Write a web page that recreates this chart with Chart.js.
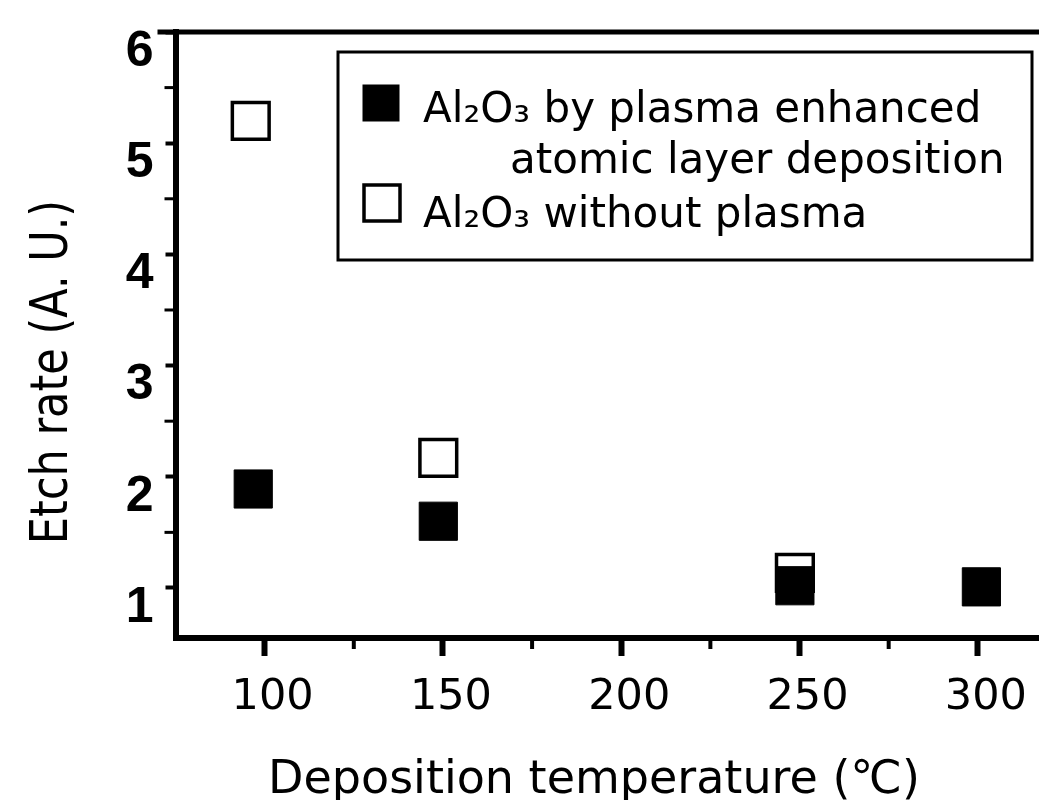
<!DOCTYPE html>
<html>
<head>
<meta charset="utf-8">
<script src="https://cdn.jsdelivr.net/npm/chart.js@4.4.1/dist/chart.umd.min.js"></script>
<style>
  html, body { margin: 0; padding: 0; background: #fff; overflow: hidden; }
  #wrap { width: 1039px; height: 800px; position: relative; overflow: hidden; }
  #c { display: block; }
</style>
</head>
<body>
<div id="wrap"><canvas id="c" width="1120" height="800"></canvas></div>
<script>
// ---- data ----
const temperaturesPlasma = [96.8, 148.7, 248.7, 301];
const etchPlasma = [1.89, 1.60, 1.02, 1.01];
const temperaturesThermal = [96.1, 148.7, 248.7];
const etchThermal = [5.20, 2.17, 1.135];
const seriesNames = [
  ['Al₂O₃ by plasma enhanced', 'atomic layer deposition'],
  ['Al₂O₃ without plasma']
];
const xTickValues = [100, 150, 200, 250, 300];
const xMinorTicks = [125, 175, 225, 275, 325];
const yTickValues = [1, 2, 3, 4, 5, 6];
const yMinorTicks = [1.5, 2.5, 3.5, 4.5, 5.5];
const xTitle = 'Deposition temperature (℃)';
const yTitle = 'Etch rate (A. U.)';

const decor = {
  id: 'decor',
  afterDraw(chart) {
    const { ctx, chartArea: a, scales: { x, y } } = chart;
    ctx.save();
    ctx.strokeStyle = '#000';
    ctx.fillStyle = '#000';
    ctx.lineCap = 'butt';
    // top frame line
    ctx.lineWidth = 5;
    ctx.beginPath();
    ctx.moveTo(a.left - 18, a.top);
    ctx.lineTo(chart.width, a.top);
    ctx.stroke();
    // minor ticks
    ctx.lineWidth = 3;
    yMinorTicks.forEach(v => {
      const py = y.getPixelForValue(v);
      ctx.beginPath(); ctx.moveTo(a.left - 11, py); ctx.lineTo(a.left, py); ctx.stroke();
    });
    ctx.lineWidth = 4;
    xMinorTicks.forEach(v => {
      const px = x.getPixelForValue(v);
      if (px > a.right) return;
      ctx.beginPath(); ctx.moveTo(px, a.bottom); ctx.lineTo(px, a.bottom + 11); ctx.stroke();
    });
    // axis titles
    ctx.font = '46px "DejaVu Sans"';
    ctx.textAlign = 'center';
    ctx.textBaseline = 'alphabetic';
    ctx.fillText(xTitle, 594, 793);
    ctx.save();
    ctx.translate(67, 372);
    ctx.rotate(-Math.PI / 2);
    ctx.scale(1, 1.2);
    ctx.font = '43px "DejaVu Sans"';
    ctx.textAlign = 'center';
    ctx.textBaseline = 'alphabetic';
    ctx.fillText(yTitle, 0, 0);
    ctx.restore();
    // legend box
    ctx.lineWidth = 3;
    ctx.fillStyle = '#fff';
    ctx.fillRect(338, 52, 694, 208);
    ctx.strokeRect(338, 52, 694, 208);
    const items = [
      { ds: chart.data.datasets[0], cx: 381, cy: 103, lines: seriesNames[0], tx: [423, 510], ty: [122, 173] },
      { ds: chart.data.datasets[1], cx: 382, cy: 203, lines: seriesNames[1], tx: [423], ty: [227] }
    ];
    items.forEach(it => {
      const s = 36;
      ctx.fillStyle = it.ds.pointBackgroundColor;
      ctx.strokeStyle = it.ds.pointBorderColor;
      ctx.lineWidth = it.ds.pointBorderWidth;
      ctx.fillRect(it.cx - s / 2, it.cy - s / 2, s, s);
      ctx.strokeRect(it.cx - s / 2, it.cy - s / 2, s, s);
      ctx.fillStyle = '#000';
      ctx.font = '42px "DejaVu Sans"';
      ctx.textAlign = 'left';
      ctx.textBaseline = 'alphabetic';
      it.lines.forEach((t, i) => ctx.fillText(t, it.tx[i], it.ty[i]));
    });
    ctx.restore();
  }
};

new Chart(document.getElementById('c'), {
  type: 'scatter',
  data: {
    datasets: [
      {
        label: seriesNames[0].join(' '),
        data: temperaturesPlasma.map((t, i) => ({ x: t, y: etchPlasma[i] })),
        pointStyle: 'rect',
        pointRadius: 27,
        pointHoverRadius: 27,
        pointBackgroundColor: '#000',
        pointBorderColor: '#000',
        pointBorderWidth: 1
      },
      {
        label: seriesNames[1].join(' '),
        data: temperaturesThermal.map((t, i) => ({ x: t, y: etchThermal[i] })),
        pointStyle: 'rect',
        pointRadius: 26,
        pointHoverRadius: 26,
        pointBackgroundColor: '#fff',
        pointBorderColor: '#000',
        pointBorderWidth: 3.5
      }
    ]
  },
  options: {
    responsive: false,
    animation: false,
    layout: { padding: { top: 32, left: 0, right: 0, bottom: 0 } },
    plugins: { legend: { display: false }, tooltip: { enabled: false } },
    scales: {
      x: {
        type: 'linear',
        min: 75,
        max: 331.6,
        afterBuildTicks: s => { s.ticks = xTickValues.map(v => ({ value: v })); },
        afterFit: s => { s.height = 162; },
        border: { display: true, color: '#000', width: 6 },
        grid: { display: true, drawOnChartArea: false, drawTicks: true, tickLength: 18, tickWidth: 6, tickColor: '#000' },
        ticks: {
          color: '#000',
          font: { family: 'DejaVu Sans', size: 43 },
          padding: 16,
          labelOffset: 8,
          maxRotation: 0,
          autoSkip: false
        },
        title: { display: false }
      },
      y: {
        type: 'linear',
        min: 0.55,
        max: 6,
        afterBuildTicks: s => { s.ticks = yTickValues.map(v => ({ value: v })); },
        afterFit: s => { s.width = 175.5; },
        border: { display: true, color: '#000', width: 6 },
        grid: { display: true, drawOnChartArea: false, drawTicks: true, tickLength: 10, tickWidth: 4, tickColor: '#000' },
        ticks: {
          color: '#000',
          font: { family: 'Liberation Sans', size: 50, weight: 'bold', lineHeight: 0.8 },
          padding: 12,
          labelOffset: 20,
          autoSkip: false
        },
        title: { display: false }
      }
    }
  },
  plugins: [decor]
});
</script>
</body>
</html>
